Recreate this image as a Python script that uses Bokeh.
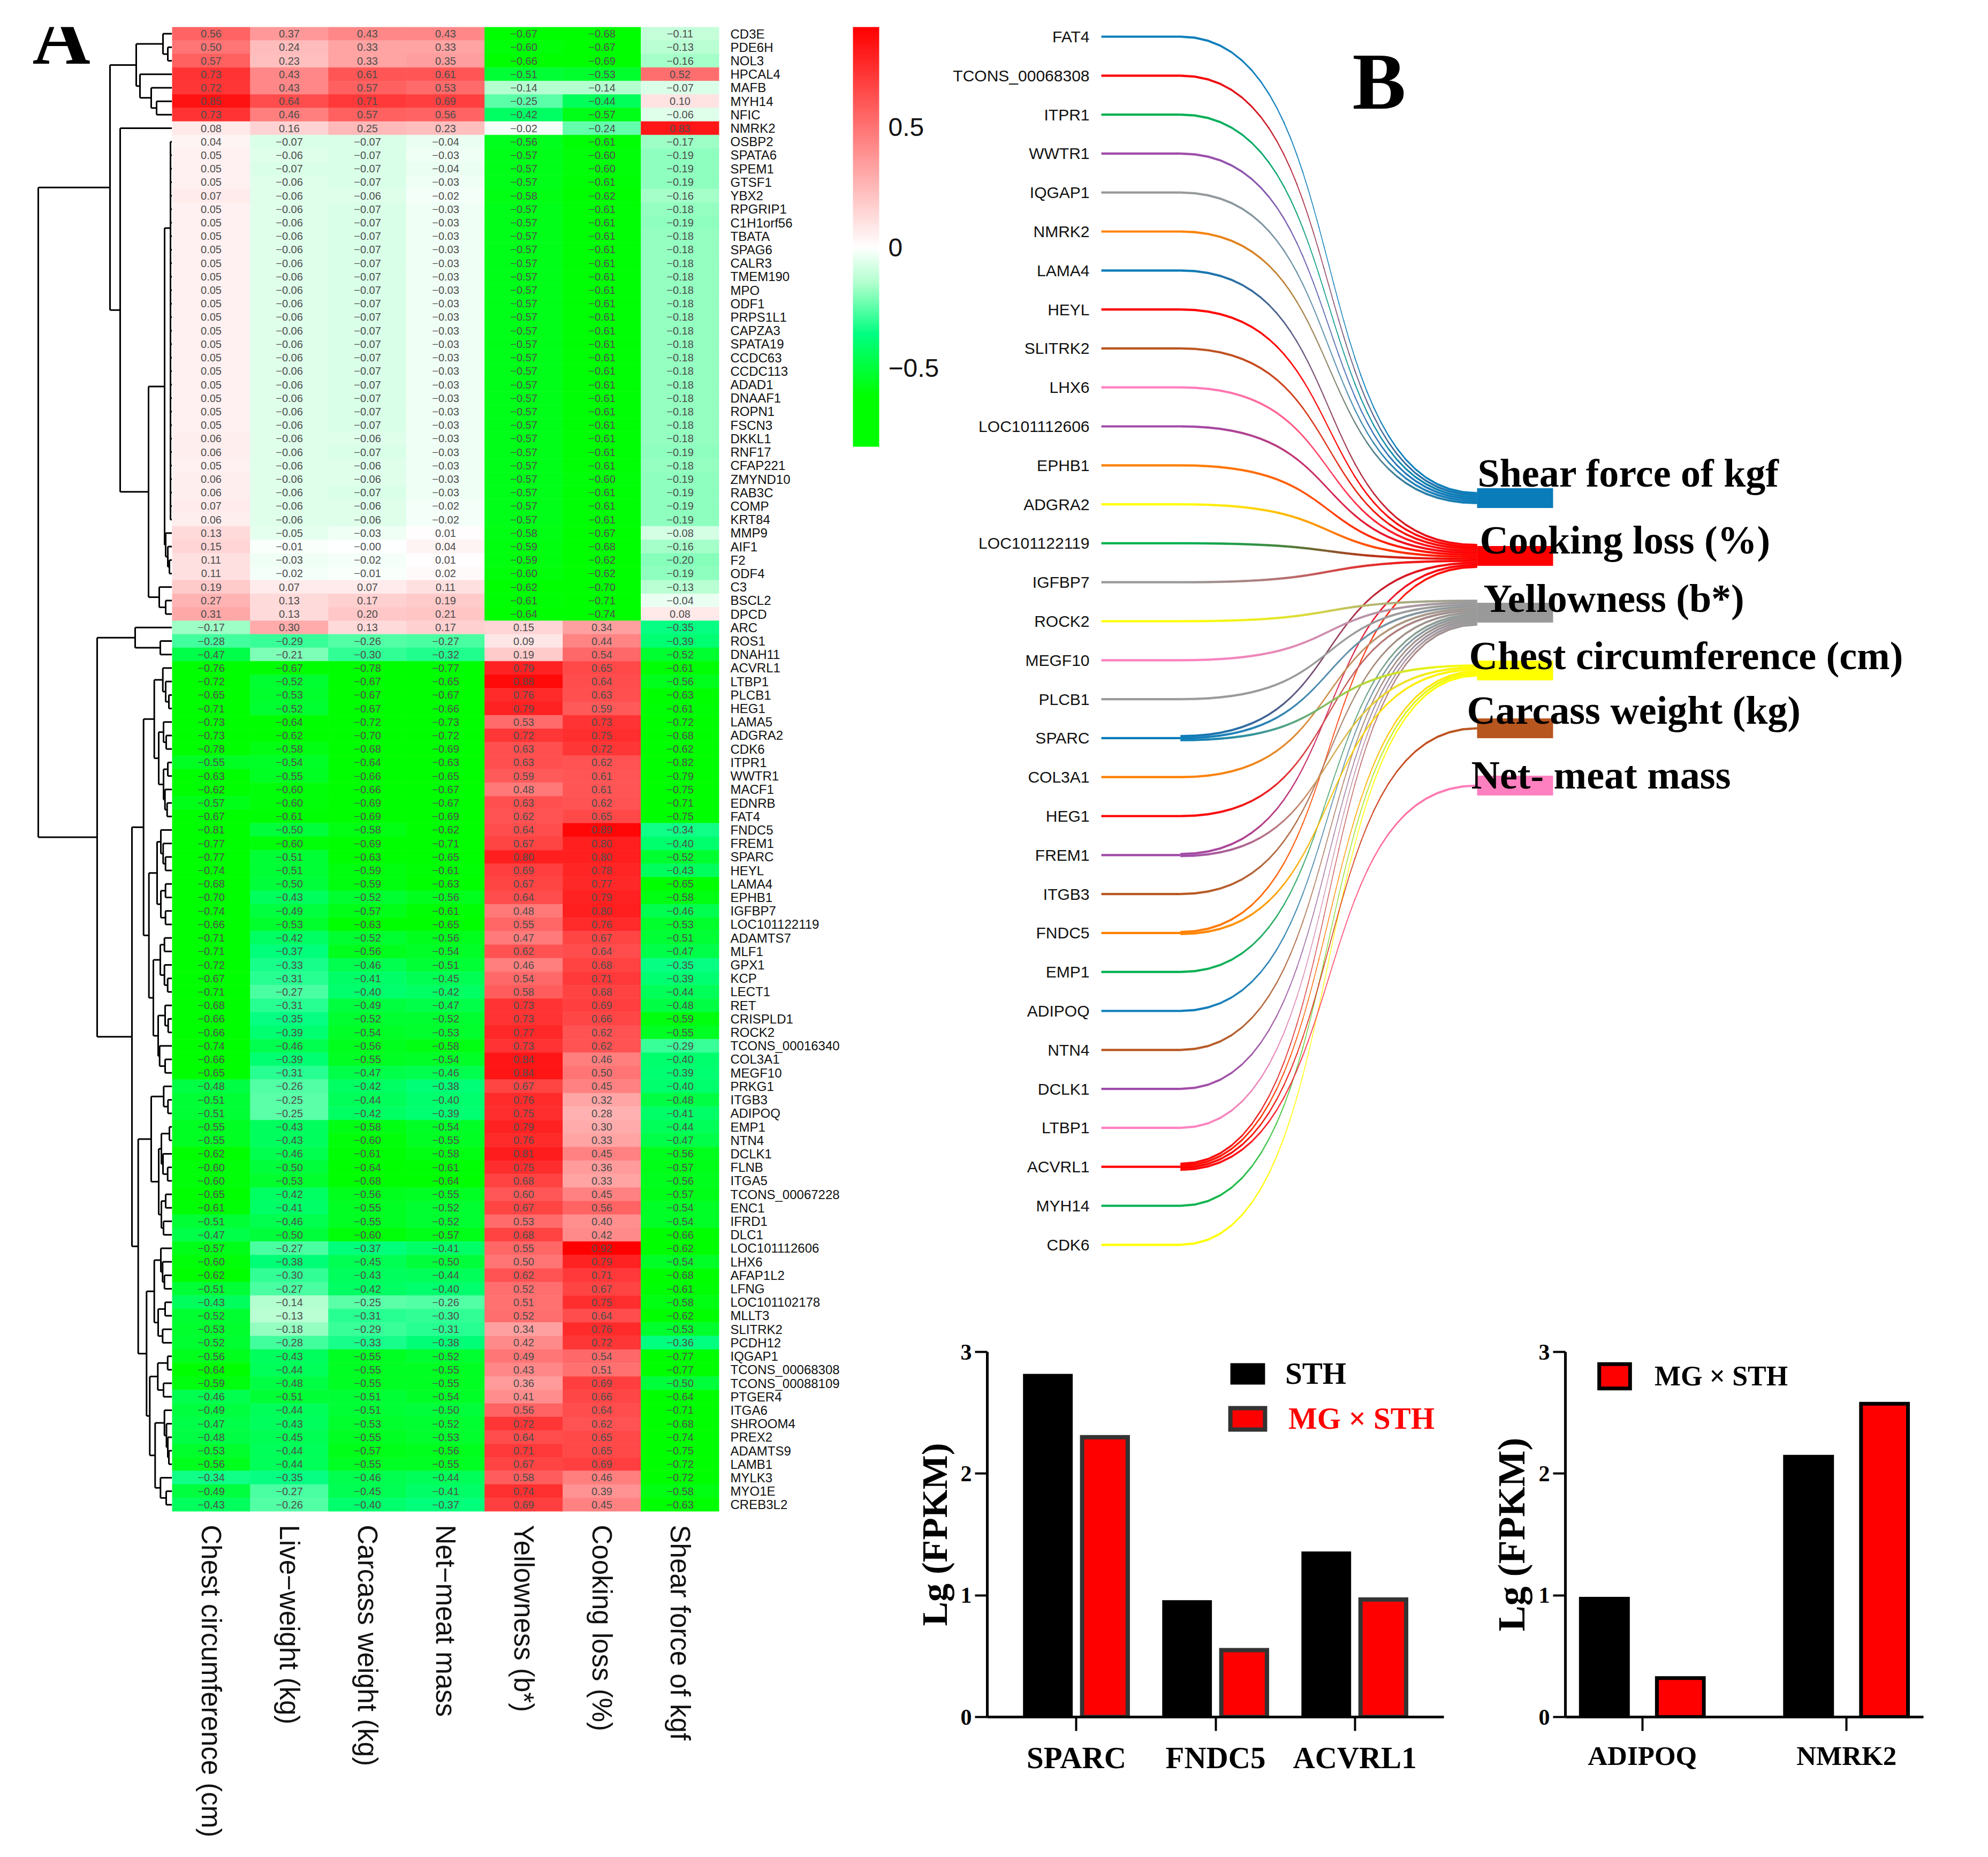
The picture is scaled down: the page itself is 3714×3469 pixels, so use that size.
import math
import numpy as np
from bokeh.core.properties import value
from bokeh.embed import file_html
from bokeh.layouts import column, row
from bokeh.models import (ColorBar, ColumnDataSource, FactorRange, FixedTicker, Label, Legend, LegendItem,
                          LinearColorMapper, Range1d)
from bokeh.plotting import figure
from bokeh.resources import INLINE
from bokeh.transform import dodge, transform

GENES = ["CD3E","PDE6H","NOL3","HPCAL4","MAFB","MYH14","NFIC","NMRK2","OSBP2","SPATA6","SPEM1","GTSF1","YBX2",
"RPGRIP1","C1H1orf56","TBATA","SPAG6","CALR3","TMEM190","MPO","ODF1","PRPS1L1","CAPZA3","SPATA19","CCDC63","CCDC113",
"ADAD1","DNAAF1","ROPN1","FSCN3","DKKL1","RNF17","CFAP221","ZMYND10","RAB3C","COMP","KRT84","MMP9","AIF1","F2","ODF4",
"C3","BSCL2","DPCD","ARC","ROS1","DNAH11","ACVRL1","LTBP1","PLCB1","HEG1","LAMA5","ADGRA2","CDK6","ITPR1","WWTR1",
"MACF1","EDNRB","FAT4","FNDC5","FREM1","SPARC","HEYL","LAMA4","EPHB1","IGFBP7","LOC101122119","ADAMTS7","MLF1","GPX1",
"KCP","LECT1","RET","CRISPLD1","ROCK2","TCONS_00016340","COL3A1","MEGF10","PRKG1","ITGB3","ADIPOQ","EMP1","NTN4",
"DCLK1","FLNB","ITGA5","TCONS_00067228","ENC1","IFRD1","DLC1","LOC101112606","LHX6","AFAP1L2","LFNG","LOC101102178",
"MLLT3","SLITRK2","PCDH12","IQGAP1","TCONS_00068308","TCONS_00088109","PTGER4","ITGA6","SHROOM4","PREX2","ADAMTS9",
"LAMB1","MYLK3","MYO1E","CREB3L2"]
COLUMNS = ["Chest circumference (cm)","Live\u2212weight (kg)","Carcass weight (kg)","Net\u2212meat mass",
           "Yellowness (b*)","Cooking loss (%)","Shear force of kgf"]

CHEST = [.56,.50,.57,.73,.72,.85,.73,.08,.04,.05,.05,.05,.07,.05,.05,.05,.05,.05,.05,.05,.05,.05,.05,.05,.05,.05,.05,.05,.05,.05,
 .06,.06,.05,.06,.06,.07,.06,.13,.15,.11,.11,.19,.27,.31,-.17,-.28,-.47,
 -.76,-.72,-.65,-.71,-.73,-.73,-.78,-.55,-.63,-.62,-.57,-.67,-.81,-.77,-.77,-.74,-.68,-.70,-.74,-.66,-.71,-.71,-.72,-.67,-.71,-.68,-.66,-.66,-.74,-.66,-.65,
 -.48,-.51,-.51,-.55,-.55,-.62,-.60,-.60,-.65,-.61,-.51,-.47,-.57,-.60,-.62,-.51,-.43,-.52,-.53,-.52,-.56,-.64,-.59,-.46,-.49,-.47,-.48,-.53,-.56,-.34,-.49,-.43]
LIVE = [.37,.24,.23,.43,.43,.64,.46,.16,-.07,-.06,-.07,-.06,-.06,-.06,-.06,-.06,-.06,-.06,-.06,-.06,-.06,-.06,-.06,-.06,-.06,-.06,-.06,-.06,-.06,-.06,
 -.06,-.06,-.06,-.06,-.06,-.06,-.06,-.05,-.01,-.03,-.02,.07,.13,.13,.30,-.29,-.21,
 -.67,-.52,-.53,-.52,-.64,-.62,-.58,-.54,-.55,-.60,-.60,-.61,-.50,-.60,-.51,-.51,-.50,-.43,-.49,-.53,-.42,-.37,-.33,-.31,-.27,-.31,-.35,-.39,-.46,-.39,-.31,
 -.26,-.25,-.25,-.43,-.43,-.46,-.50,-.53,-.42,-.41,-.46,-.50,-.27,-.38,-.30,-.27,-.14,-.13,-.18,-.28,-.43,-.44,-.48,-.51,-.44,-.43,-.45,-.44,-.44,-.35,-.27,-.26]
CARCASS = [.43,.33,.33,.61,.57,.71,.57,.25,-.07,-.07,-.07,-.07,-.06,-.07,-.07,-.07,-.07,-.07,-.07,-.07,-.07,-.07,-.07,-.07,-.07,-.07,-.07,-.07,-.07,-.07,
 -.06,-.07,-.06,-.06,-.07,-.06,-.06,-.03,-0.00,-.02,-.01,.07,.17,.20,.13,-.26,-.30,
 -.78,-.67,-.67,-.67,-.72,-.70,-.68,-.64,-.66,-.66,-.69,-.69,-.58,-.69,-.63,-.59,-.59,-.52,-.57,-.63,-.52,-.56,-.46,-.41,-.40,-.49,-.52,-.54,-.56,-.55,-.47,
 -.42,-.44,-.42,-.58,-.60,-.61,-.64,-.68,-.56,-.55,-.55,-.60,-.37,-.45,-.43,-.42,-.25,-.31,-.29,-.33,-.55,-.55,-.55,-.51,-.51,-.53,-.55,-.57,-.55,-.46,-.45,-.40]
NET = [.43,.33,.35,.61,.53,.69,.56,.23,-.04,-.03,-.04,-.03,-.02,-.03,-.03,-.03,-.03,-.03,-.03,-.03,-.03,-.03,-.03,-.03,-.03,-.03,-.03,-.03,-.03,-.03,
 -.03,-.03,-.03,-.03,-.03,-.02,-.02,.01,.04,.01,.02,.11,.19,.21,.17,-.27,-.32,
 -.77,-.65,-.67,-.66,-.73,-.72,-.69,-.63,-.65,-.67,-.67,-.69,-.62,-.71,-.65,-.61,-.63,-.56,-.61,-.65,-.56,-.54,-.51,-.45,-.42,-.47,-.52,-.53,-.58,-.54,-.46,
 -.38,-.40,-.39,-.54,-.55,-.58,-.61,-.64,-.55,-.52,-.52,-.57,-.41,-.50,-.44,-.40,-.26,-.30,-.31,-.38,-.52,-.55,-.55,-.54,-.50,-.52,-.53,-.56,-.55,-.44,-.41,-.37]
YELLOW = [-.67,-.60,-.66,-.51,-.14,-.25,-.42,-.02,-.56,-.57,-.57,-.57,-.58,-.57,-.57,-.57,-.57,-.57,-.57,-.57,-.57,-.57,-.57,-.57,-.57,-.57,-.57,-.57,-.57,-.57,
 -.57,-.57,-.57,-.57,-.57,-.57,-.57,-.58,-.59,-.59,-.60,-.62,-.61,-.64,.15,.09,.19,
 .79,.88,.76,.79,.53,.72,.63,.63,.59,.48,.63,.62,.64,.67,.80,.69,.67,.64,.48,.55,.47,.62,.46,.54,.58,.73,.73,.77,.73,.84,.84,
 .67,.76,.75,.79,.76,.81,.75,.68,.60,.67,.53,.68,.55,.50,.62,.52,.51,.52,.34,.42,.49,.43,.36,.41,.56,.72,.64,.71,.67,.58,.74,.69]
COOKING = [-.68,-.67,-.69,-.53,-.14,-.44,-.57,-.24,-.61,-.60,-.60,-.61,-.62,-.61,-.61,-.61,-.61,-.61,-.61,-.61,-.61,-.61,-.61,-.61,-.61,-.61,-.61,-.61,-.61,-.61,
 -.61,-.61,-.61,-.60,-.61,-.61,-.61,-.67,-.68,-.62,-.62,-.70,-.71,-.74,.34,.44,.54,
 .65,.64,.63,.59,.73,.75,.72,.62,.61,.61,.62,.65,.89,.80,.80,.78,.77,.79,.80,.76,.67,.64,.68,.71,.68,.69,.66,.62,.62,.46,.50,
 .45,.32,.28,.30,.33,.45,.36,.33,.45,.56,.40,.42,.92,.79,.71,.67,.75,.64,.76,.72,.54,.51,.69,.66,.64,.62,.65,.65,.69,.46,.39,.45]
SHEAR = [-.11,-.13,-.16,.52,-.07,.10,-.06,.83,-.17,-.19,-.19,-.19,-.16,-.18,-.19,-.18,-.18,-.18,-.18,-.18,-.18,-.18,-.18,-.18,-.18,-.18,-.18,-.18,-.18,-.18,
 -.18,-.19,-.18,-.19,-.19,-.19,-.19,-.08,-.16,-.20,-.19,-.13,-.04,.08,-.35,-.39,-.52,
 -.61,-.56,-.63,-.61,-.72,-.68,-.62,-.82,-.79,-.75,-.71,-.75,-.34,-.40,-.52,-.43,-.65,-.58,-.46,-.53,-.51,-.47,-.35,-.39,-.44,-.48,-.59,-.55,-.29,-.40,-.39,
 -.40,-.48,-.41,-.44,-.47,-.56,-.57,-.56,-.57,-.54,-.54,-.66,-.62,-.54,-.68,-.61,-.58,-.62,-.53,-.36,-.77,-.77,-.50,-.64,-.71,-.68,-.74,-.75,-.72,-.72,-.58,-.63]
HEAT_COLUMNS = [CHEST, LIVE, CARCASS, NET, YELLOW, COOKING, SHEAR]


def N(h, *kids):
    return (h, list(kids), None)


# Row clustering: (merge height, children); integers are row numbers.
TIGHT = (3, list(range(8, 37)), 14.9)
TREE_UPPER = N(116,
    N(67, N(17, 0, N(8, 1, 2)), N(60, 3, N(39, 4, N(29, 5, 6)))),
    N(97, 7, N(44,
        N(14, TIGHT, N(12, 37, N(8, 38, N(5, 39, 40)))),
        N(24, 41, N(12, 42, 43)))))
TREE_LOWER = N(140,
    N(69, 44, N(22, 45, 46)),
    N(75,
        N(53.3,
            N(33.3,
                N(17.3, 47, N(12, 48, N(6, 49, 50))),
                N(25, N(16, 51, N(11, 52, 53)), N(16, N(8, 54, 55), N(13.3, 56, N(9.3, 57, 58))))),
            N(43.3,
                N(28,
                    N(21, 59, N(16.7, 60, N(12.3, 61, 62))),
                    N(21, N(12.3, 63, 64), N(12.3, 65, 66))),
                N(35,
                    N(22, N(14.3, 67, 68), N(14.3, 69, N(8.3, 70, 71))),
                    N(26, N(13, 72, N(7.3, 73, 74)), N(23.3, 75, N(13, 76, 77)))))),
        N(63.3,
            N(39,
                N(15.7, 78, N(7.7, 79, 80)),
                N(25,
                    N(20, N(5, 81, 82), N(17, 83, N(8.3, 84, 85))),
                    N(20, N(12, 86, 87), N(16, 88, 89)))),
            N(47.7,
                N(33.3,
                    N(21, 90, N(17.7, 91, N(14.3, 92, 93))),
                    N(26, N(13, 94, 95), N(17.7, 96, 97))),
                N(41.7,
                    N(26.7, N(8.3, 98, 99), N(16, 100, 101)),
                    N(31.7,
                        N(14.3, 102, N(10.5, 103, N(8, 104, N(6, 105, 106)))),
                        N(21.7, 107, N(11, 108, 109))))))))
TREE = N(250, TREE_UPPER, TREE_LOWER)

SANKEY_GENES = ["FAT4","TCONS_00068308","ITPR1","WWTR1","IQGAP1","NMRK2","LAMA4","HEYL","SLITRK2","LHX6","LOC101112606",
 "EPHB1","ADGRA2","LOC101122119","IGFBP7","ROCK2","MEGF10","PLCB1","SPARC","COL3A1","HEG1","FREM1","ITGB3","FNDC5",
 "EMP1","ADIPOQ","NTN4","DCLK1","LTBP1","ACVRL1","MYH14","CDK6"]
BLUE, RED, GREEN, PURPLE, GREY, ORANGE, BROWN, PINK, YEL = ("#0a7cba", "#ff0000", "#00b050", "#a04aa8", "#999999",
                                                           "#ff8000", "#b8561f", "#ff80c0", "#ffff00")
SANKEY_COLORS = [BLUE,RED,GREEN,PURPLE,GREY,ORANGE,BLUE,RED,BROWN,PINK,PURPLE,ORANGE,YEL,GREEN,GREY,YEL,PINK,GREY,BLUE,
 ORANGE,RED,PURPLE,BROWN,ORANGE,GREEN,BLUE,BROWN,PURPLE,PINK,RED,GREEN,YEL]
TARGETS = ["Shear force of kgf","Cooking loss (%)","Yellowness (b*)","Chest circumference (cm)","Carcass weight (kg)","Net- meat mass"]
TARGET_COLORS = [BLUE, RED, GREY, YEL, BROWN, PINK]
TARGET_LINKS = [
    ["FAT4","TCONS_00068308","ITPR1","WWTR1","IQGAP1","NMRK2"],
    ["LAMA4","HEYL","SLITRK2","LHX6","LOC101112606","EPHB1","ADGRA2","LOC101122119","IGFBP7","SPARC","FREM1","FNDC5"],
    ["ROCK2","MEGF10","PLCB1","SPARC","COL3A1","HEG1","ITGB3","EMP1","ADIPOQ","NTN4","DCLK1","LTBP1","ACVRL1"],
    ["SPARC","FREM1","FNDC5","ACVRL1","MYH14","CDK6"],
    ["ACVRL1"],
    ["ACVRL1"],
]

C_GENES = ["SPARC", "FNDC5", "ACVRL1"]
C_STH = [2.82, 0.96, 1.36]
C_MG = [2.30, 0.55, 0.965]
D_GENES = ["ADIPOQ", "NMRK2"]
D_STH = [0.987, 2.154]
D_MG = [0.32, 2.574]

SANS = value("Liberation Sans")
SERIF = "Liberation Serif"
PAGE_H = 3453


def ramp(stops, n=512):
    vals = np.linspace(stops[0][0], stops[-1][0], n)
    xs = [s[0] for s in stops]
    out = []
    for v in vals:
        rgb = [int(round(np.interp(v, xs, [s[1][k] for s in stops]))) for k in range(3)]
        out.append("#%02x%02x%02x" % tuple(rgb))
    return out


LOW, HIGH = -0.826, 0.915
palette = ramp([(LOW, (0, 255, 0)), (-0.62, (0, 255, 0)), (-0.36, (0, 255, 128)), (-0.15, (175, 255, 205)),
                (0.0, (255, 255, 255)), (HIGH, (255, 0, 0))])
mapper = LinearColorMapper(palette=palette, low=LOW, high=HIGH)

# ---- dendrogram
segx, segy = [], []


def walk(node):
    if isinstance(node, int):
        return node + 0.5, 0.0
    h, kids, center = node
    pos = [walk(k) for k in kids]
    for y, kh in pos:
        segx.append([kh, h]); segy.append([y, y])
    segx.append([h, h]); segy.append([pos[0][0], pos[-1][0]])
    mid = center if center is not None else (pos[0][0] + pos[-1][0]) / 2
    return mid, h


walk(TREE)
dend = figure(width=321, height=PAGE_H, x_range=Range1d(321, 0), y_range=Range1d(len(GENES), 0),
              x_axis_type=None, y_axis_type=None, toolbar_location=None, output_backend="svg",
              min_border_left=0, min_border_right=0, min_border_top=50, min_border_bottom=630, outline_line_color=None)
dend.grid.visible = False
dend.multi_line(segx, segy, line_color="#000000", line_width=3)
dend.add_layout(Label(x=60, y=2673, x_units="screen", y_units="screen", text="A", text_font=SERIF,
                      text_font_style="bold", text_font_size="150px", text_color="#000000"))

# ---- heatmap
rows_c, rows_g, rows_v, rows_t = [], [], [], []
for cname, vals in zip(COLUMNS, HEAT_COLUMNS):
    for g, v in zip(GENES, vals):
        rows_c.append(cname); rows_g.append(g); rows_v.append(v)
        rows_t.append(("%.2f" % v).replace("-", "\u2212"))
heat_src = ColumnDataSource(dict(c=rows_c, g=rows_g, v=rows_v, t=rows_t))
heat = figure(width=1261, height=PAGE_H, x_range=COLUMNS, y_range=GENES[::-1], y_axis_location="right",
              toolbar_location=None, output_backend="svg", min_border_left=0, min_border_right=239,
              min_border_top=50, min_border_bottom=630, outline_line_color=None)
heat.grid.visible = False
heat.rect("c", "g", width=1, height=1, source=heat_src, fill_color=transform("v", mapper),
          line_color=transform("v", mapper), line_width=0.6)
heat.text("c", "g", text="t", source=heat_src, text_font=SANS, text_font_size="20px", text_color="#4d4d4d",
          text_align="center", text_baseline="middle")
for ax in (heat.xaxis[0], heat.yaxis[0]):
    ax.axis_line_color = None
    ax.major_tick_line_color = None
    ax.minor_tick_line_color = None
    ax.major_label_text_font = "Liberation Sans"
    ax.major_label_text_color = "#111111"
heat.yaxis[0].major_label_text_font_size = "24px"
heat.yaxis[0].major_label_standoff = 15
heat.xaxis[0].major_label_text_font_size = "51px"
heat.xaxis[0].major_label_orientation = -math.pi / 2
heat.xaxis[0].major_label_standoff = 19

# ---- sankey (figure axes are in image layout units)
SRC_FIRST, SRC_STEP = 76.0, 72.8
X_LABEL, X_LINE, X_BEND, X_NODE, X_NODE_END = 2043, 2065, 2213, 2767, 2909
TGT_CENTERS = [938, 1046, 1152, 1260, 1368, 1475]
NODE_H, LINK_H, LINE_H = 37, 3.7, 4.2
TGT_LEFT = [2768, 2772, 2779, 2752, 2748, 2756]
TGT_BASE = [891, 1016, 1125, 1232, 1334, 1455]

sank = figure(width=2116, height=2392, x_range=Range1d(1590, 3706), y_range=Range1d(2400, 8),
              x_axis_type=None, y_axis_type=None, toolbar_location=None, output_backend="svg",
              min_border=0, outline_line_color=None)
sank.grid.visible = False


def rgb(h):
    return np.array([int(h[i:i + 2], 16) for i in (1, 3, 5)], dtype=float)


links = []
for ti, names in enumerate(TARGET_LINKS):
    ordered = sorted(names, key=SANKEY_GENES.index)
    for k, nm in enumerate(ordered):
        links.append(dict(ti=ti, src=SANKEY_GENES.index(nm), ty=TGT_CENTERS[ti] + (k - (len(ordered) - 1) / 2) * LINK_H))
for si in range(len(SANKEY_GENES)):
    mine = [l for l in links if l["src"] == si]
    for k, l in enumerate(sorted(mine, key=lambda q: q["ti"])):
        l["sy"] = SRC_FIRST + si * SRC_STEP + (k - (len(mine) - 1) / 2) * LINK_H

src_y = [SRC_FIRST + i * SRC_STEP for i in range(len(SANKEY_GENES))]
sank.quad(left=[X_LINE] * len(src_y), right=[X_BEND] * len(src_y), top=[y - LINE_H / 2 for y in src_y],
          bottom=[y + LINE_H / 2 for y in src_y], fill_color=SANKEY_COLORS, line_color=None)

C_PT = 0.6
ts = np.linspace(0, 1, 37)
px, py, pc = [], [], []
for l in links:
    c0, c1 = rgb(SANKEY_COLORS[l["src"]]), rgb(TARGET_COLORS[l["ti"]])
    w = X_NODE - X_BEND
    bx = X_BEND + w * (3 * (1 - ts) ** 2 * ts * C_PT + 3 * (1 - ts) * ts ** 2 * (1 - C_PT) + ts ** 3)
    by = l["sy"] + (l["ty"] - l["sy"]) * (3 * ts ** 2 - 2 * ts ** 3)
    for i in range(len(ts) - 1):
        px.append([bx[i], bx[i + 1], bx[i + 1], bx[i]])
        py.append([by[i] - LINK_H / 2, by[i + 1] - LINK_H / 2, by[i + 1] + LINK_H / 2, by[i] + LINK_H / 2])
        m = (ts[i] + ts[i + 1]) / 2
        cc = c0 + (c1 - c0) * m
        pc.append("#%02x%02x%02x" % tuple(int(round(v)) for v in cc))
sank.patches(px, py, fill_color=pc, line_color=pc, line_width=0.5)
sank.quad(left=[X_NODE] * 6, right=[X_NODE_END] * 6, top=[y - NODE_H / 2 for y in TGT_CENTERS],
          bottom=[y + NODE_H / 2 for y in TGT_CENTERS], fill_color=TARGET_COLORS, line_color=None)
sank.text(x=[X_LABEL] * len(src_y), y=src_y, text=SANKEY_GENES, text_font=SANS, text_font_size="30px",
          text_align="right", text_baseline="middle", text_color="#111111")
sank.text(x=TGT_LEFT, y=TGT_BASE, text=TARGETS, text_font=value(SERIF), text_font_style="bold", text_font_size="74px",
          text_align="left", text_baseline="alphabetic", text_color="#000000")
sank.text(x=[2534], y=[159], text=["B"], text_font=value(SERIF), text_font_style="bold", text_font_size="150px",
          text_align="left", text_baseline="alphabetic", text_color="#000000")
bar = ColorBar(color_mapper=mapper, ticker=FixedTicker(ticks=[-0.5, 0, 0.5]),
               major_label_overrides={-0.5: "\u22120.5", 0: "0", 0.5: "0.5"}, width=49, height=784,
               location=(11, 1558), padding=0, margin=0, label_standoff=17, major_tick_line_color=None,
               minor_tick_line_color=None, bar_line_color=None, background_fill_color=None, border_line_color=None,
               major_label_text_font="Liberation Sans", major_label_text_font_size="48px",
               major_label_text_color="#111111")
sank.add_layout(bar)


def bar_panel(width, fr, pad, l, r, t, b, genes, sth, mg, wS, wM, off, stroke, lw, letter, letter_xy, lab_size, y_lab,
              tick_out, leg1, leg2, leg_glyph, leg_size, mg_color):
    xr = FactorRange(factors=genes, range_padding=pad, range_padding_units="absolute")
    p = figure(width=width, height=1061, x_range=xr, y_range=Range1d(0, 3), toolbar_location=None,
               output_backend="svg", min_border_left=l, min_border_right=r, min_border_top=t, min_border_bottom=b,
               outline_line_color=None)
    p.grid.visible = False
    src = ColumnDataSource(dict(gene=genes, sth=sth, mg=mg))
    r1 = p.vbar(x=dodge("gene", -off, range=p.x_range), top="sth", width=wS, source=src, fill_color="#000000",
                line_color=None)
    r2 = p.vbar(x=dodge("gene", off, range=p.x_range), top="mg", width=wM, source=src, fill_color="#ff0000",
                line_color=stroke, line_width=lw, line_join="miter")
    ya, xa = p.yaxis[0], p.xaxis[0]
    ya.ticker = FixedTicker(ticks=[0, 1, 2, 3])
    ya.axis_line_width = 5
    ya.major_tick_line_width = 4
    ya.major_tick_out = 23
    ya.major_tick_in = 0
    ya.minor_tick_line_color = None
    ya.major_label_text_font = SERIF
    ya.major_label_text_font_style = "bold"
    ya.major_label_text_font_size = "42px"
    ya.major_label_standoff = 6
    ya.major_label_text_color = "#000000"
    ya.axis_label = "Lg (FPKM)"
    ya.axis_label_text_font = SERIF
    ya.axis_label_text_font_style = "bold"
    ya.axis_label_text_font_size = y_lab
    ya.axis_label_standoff = 8
    ya.axis_label_text_color = "#000000"
    xa.axis_line_width = 5
    xa.major_tick_line_width = 4
    xa.major_tick_out = tick_out
    xa.major_tick_in = 0
    xa.major_label_text_font = SERIF
    xa.major_label_text_font_style = "bold"
    xa.major_label_text_font_size = lab_size
    xa.major_label_standoff = 18
    xa.major_label_text_color = "#000000"
    for (loc, standoff, rend, lab, col) in [(leg1[0], leg1[1], r1, "STH", "#000000"),
                                             (leg2[0], leg2[1], r2, "MG \u00d7 STH", mg_color)]:
        lg = Legend(items=[LegendItem(label=value(lab), renderers=[rend])], location=loc, padding=0, margin=0,
                    border_line_color=None, background_fill_color=None, glyph_width=leg_glyph[0],
                    glyph_height=leg_glyph[1], label_standoff=standoff, label_text_font=SERIF,
                    label_text_font_style="bold", label_text_font_size=leg_size, label_text_color=col)
        p.add_layout(lg)
    p.add_layout(Label(x=letter_xy[0], y=letter_xy[1], x_units="screen", y_units="screen", text=letter,
                       text_font=SERIF, text_font_style="bold", text_font_size="150px", text_color="#000000"))
    return p


pc_panel = bar_panel(1170, None, 0.14, 262, 55, 96, 229, C_GENES, C_STH, C_MG, 0.357, 0.328, 0.205, "#333333", 8,
                     "C", (-178, 701), "57px", "68px", 26, ((446, 609), 30), ((446, 525), 36), (81, 50), "57px",
                     "#ff0000")
pd_panel = bar_panel(946, None, -0.123, 172, 105, 133, 246, D_GENES, D_STH, D_MG, 0.249, 0.23, 0.186, "#000000", 7,
                     "D", (-157, 684), "51px", "72px", 26, ((56, 699), 25), ((56, 607), 39), (72, 57), "52px",
                     "#000000")

layout = row(dend, heat, column(sank, row(pc_panel, pd_panel, spacing=0), spacing=0), spacing=0)
open("out.html", "w").write(file_html(layout, INLINE))
